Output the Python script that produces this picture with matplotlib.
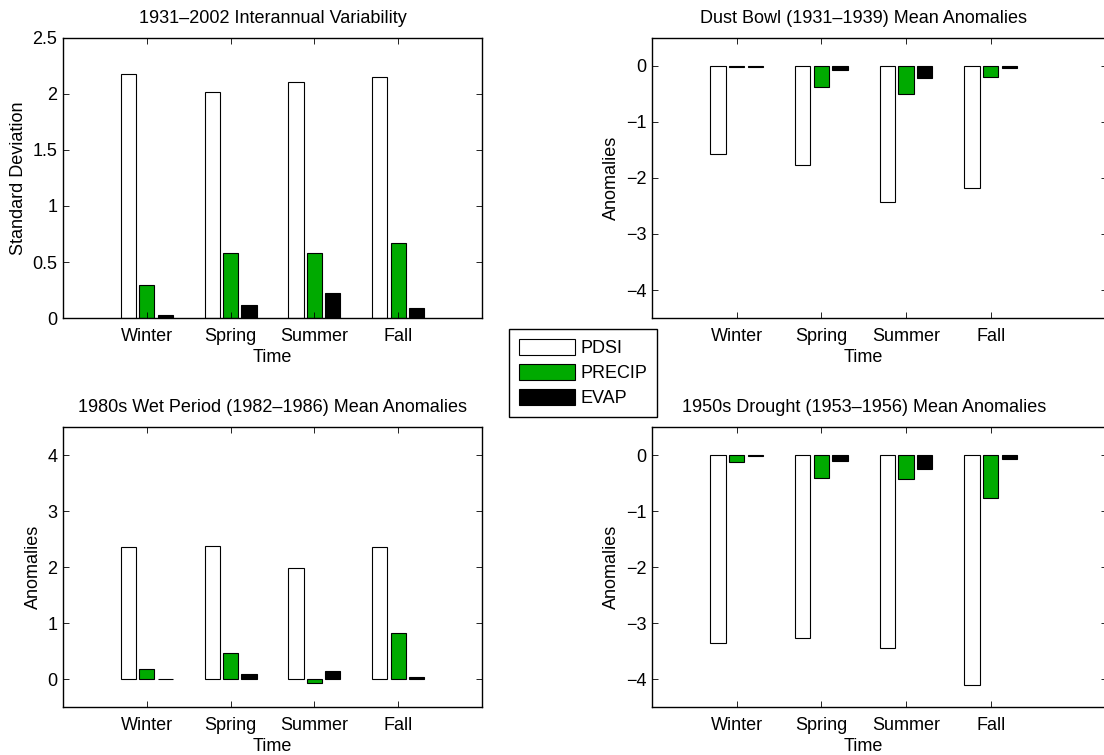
"""
Seasonal PDSI / PRECIP / EVAP summary: interannual variability and mean
anomalies for three drought / pluvial periods.
"""
import numpy as np
import matplotlib
matplotlib.use("Agg")
import matplotlib.pyplot as plt
from matplotlib.patches import Patch

plt.rcParams['font.family'] = ['Liberation Sans', 'DejaVu Sans']
plt.rcParams['font.size'] = 13

# ============ data ============
seasons = ['Winter', 'Spring', 'Summer', 'Fall']
series_names = ['PDSI', 'PRECIP', 'EVAP']

# 1931-2002 standard deviation
std_pdsi   = [2.175, 2.018, 2.104, 2.149]
std_precip = [0.298, 0.583, 0.580, 0.670]
std_evap   = [0.027, 0.119, 0.223, 0.089]

# Dust Bowl (1931-1939)
dust_pdsi   = [-1.571, -1.774, -2.423, -2.179]
dust_precip = [-0.010, -0.375, -0.506, -0.202]
dust_evap   = [-0.010, -0.077, -0.208, -0.040]

# 1980s wet period (1982-1986)
wet_pdsi   = [2.351, 2.369, 1.988, 2.357]
wet_precip = [0.173, 0.458, -0.077, 0.827]
wet_evap   = [-0.008, 0.089, 0.149, 0.036]

# 1950s drought (1953-1956)
d50_pdsi   = [-3.357, -3.274, -3.440, -4.101]
d50_precip = [-0.131, -0.405, -0.435, -0.774]
d50_evap   = [-0.012, -0.107, -0.250, -0.077]

colors = ['white', '#00aa00', 'black']
FIG_W, FIG_H = 1104, 755


def px_box(x0, x1, y0, y1):
    """pixel box (top-left origin) -> figure fraction [l, b, w, h]"""
    return [x0 / FIG_W, 1 - y1 / FIG_H, (x1 - x0) / FIG_W, (y1 - y0) / FIG_H]


def fmt_tick(t):
    return f'{t:g}'.replace('-', '\u2212')


def draw_panel(ax, vals, title, ylabel, ylim, yticks, xmax=5.0):
    x = np.arange(1, len(seasons) + 1)
    width = 0.18
    offsets = [-0.22, 0.0, 0.22]
    bars = []
    for v, off, c in zip(vals, offsets, colors):
        b = ax.bar(x + off, v, width, color=c, edgecolor='black', linewidth=0.8)
        bars.append(b)
    ax.set_xlim(0, xmax)
    ax.set_ylim(*ylim)
    ax.set_yticks(yticks)
    ax.set_yticklabels([fmt_tick(t) for t in yticks])
    ax.set_xticks(x)
    ax.set_xticklabels(seasons)
    ax.tick_params(direction='in', length=4, width=0.6, top=True, right=True)
    ax.tick_params(axis='x', pad=7)
    ax.tick_params(axis='y', pad=4)
    for s in ax.spines.values():
        s.set_linewidth(1.0)
    # title / xlabel centred on the 0..5 range
    cx = 2.5 / xmax
    ax.set_title(title, fontsize=13, pad=11, x=cx)
    ax.set_xlabel('Time', labelpad=0)
    ax.xaxis.set_label_coords(cx, -0.112)
    ax.set_ylabel(ylabel, labelpad=4)
    return bars


fig = plt.figure(figsize=(FIG_W / 100, FIG_H / 100), dpi=100)

ax1 = fig.add_axes(px_box(63, 482, 38, 318))
ax2 = fig.add_axes(px_box(652, 1107, 38, 318))
ax3 = fig.add_axes(px_box(63, 482, 427, 707))
ax4 = fig.add_axes(px_box(652, 1107, 427, 707))

xmax_r = (1107 - 652) / 84.67

bars = draw_panel(ax1, [std_pdsi, std_precip, std_evap],
                  '1931\u20132002 Interannual Variability', 'Standard Deviation',
                  (0, 2.5), [0, 0.5, 1, 1.5, 2, 2.5])
draw_panel(ax2, [dust_pdsi, dust_precip, dust_evap],
           'Dust Bowl (1931\u20131939) Mean Anomalies', 'Anomalies',
           (-4.5, 0.5), [-4, -3, -2, -1, 0], xmax=xmax_r)
draw_panel(ax3, [wet_pdsi, wet_precip, wet_evap],
           '1980s Wet Period (1982\u20131986) Mean Anomalies', 'Anomalies',
           (-0.5, 4.5), [0, 1, 2, 3, 4])
draw_panel(ax4, [d50_pdsi, d50_precip, d50_evap],
           '1950s Drought (1953\u20131956) Mean Anomalies', 'Anomalies',
           (-4.5, 0.5), [-4, -3, -2, -1, 0], xmax=xmax_r)

handles = [Patch(facecolor=c, edgecolor='black', linewidth=0.8) for c in colors]
leg = fig.legend(handles, series_names, loc='upper left',
                 bbox_to_anchor=(509 / FIG_W, 1 - 329 / FIG_H),
                 borderaxespad=0, fancybox=False, framealpha=1,
                 handlelength=3.1, handleheight=1.0, handletextpad=0.3,
                 labelspacing=0.38, borderpad=0.55, fontsize=13)
leg.get_frame().set_edgecolor('black')
leg.get_frame().set_linewidth(1.0)

fig.savefig('out.png', dpi=100)
